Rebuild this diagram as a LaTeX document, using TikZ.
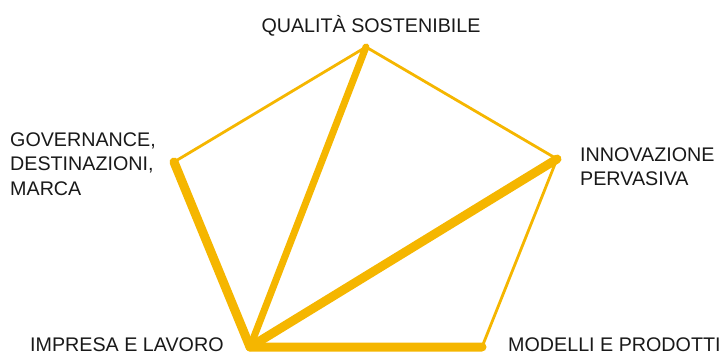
\documentclass[tikz,border=0pt]{standalone}
\usepackage{fontspec}
\setmainfont{Liberation Sans}
\usepackage{xcolor}
\definecolor{pyellow}{RGB}{245, 182, 0}

\tikzset{
  lbl/.style={font=\fontsize{19.7}{24.5}\selectfont, inner sep=0pt, text=black!90},
  thinedge/.style={draw=pyellow, line width=2.8pt, line join=round, line cap=round},
  thickedge/.style={draw=pyellow, line width=9pt, line join=round, line cap=round}
}

\begin{document}
\begin{tikzpicture}[x=1pt, y=-1pt]
        \useasboundingbox (0,0) rectangle (725,354);

        % corners of the pentagon
        \coordinate (qual) at (366,47);
        \coordinate (gov) at (174,162);
        \coordinate (inno) at (557,159);
        \coordinate (impr) at (250,347);
        \coordinate (mod) at (482,347);

        % outer edges
        \draw[thinedge] (gov) -- (qual) -- (inno) -- (mod);

        % heavy edges from the bottom left corner
        \draw[thickedge, line width=7pt] (impr) -- (qual);
        \draw[thickedge] (gov) -- (impr) -- (mod);
        \draw[thickedge] (impr) -- (inno);

        % labels
        \node[lbl, anchor=base] (lqual) at (371,32) {QUALITÀ SOSTENIBILE};
        \node[lbl, anchor=north west, align=left] (lgov) at (10,132.5) {GOVERNANCE,\\DESTINAZIONI,\\MARCA};
        \node[lbl, anchor=north west, align=left] (linno) at (580,147.5) {INNOVAZIONE\\PERVASIVA};
        \node[lbl, anchor=base west] (limpr) at (30,351) {IMPRESA E LAVORO};
        \node[lbl, anchor=base west] (lmod) at (508,351) {MODELLI E PRODOTTI};
    \end{tikzpicture}
\end{document}
